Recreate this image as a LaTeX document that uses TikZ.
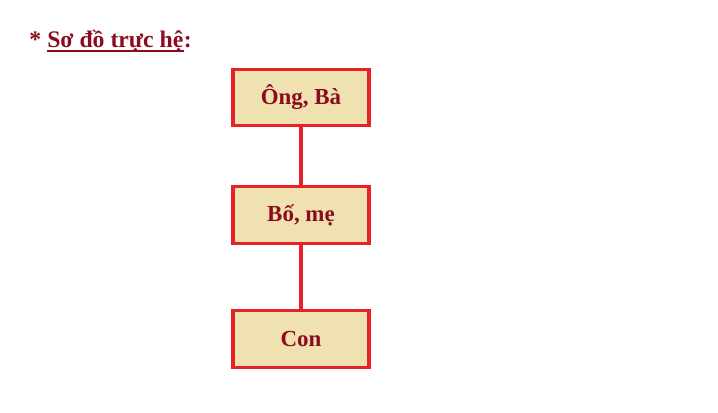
\documentclass[tikz,border=0pt]{standalone}
\usepackage{fontspec}
\setmainfont{Liberation Serif}
\definecolor{boxfill}{HTML}{EFE2B0}
\definecolor{boxline}{HTML}{E8202A}
\definecolor{txt}{HTML}{8B0C1E}
\tikzset{
  famnode/.style={draw=boxline, line width=2.3pt, fill=boxfill, minimum width=102pt, minimum height=42.5pt, inner sep=0pt, font=\bfseries\fontsize{17.2}{20}\selectfont, text=txt},
  link/.style={draw=boxline, line width=2.3pt},
  titletext/.style={inner sep=0pt, text=txt, font=\bfseries\fontsize{17.8}{21}\selectfont}
}
\begin{document}
\begin{tikzpicture}[x=0.75pt,y=-0.75pt]
\useasboundingbox (0,0) rectangle (718,412);
\node[famnode] (a) at (301,97.5) {Ông, Bà};
\node[famnode] (b) at (301,215) {Bố, mẹ};
\node[famnode] (c) at (301,339) {Con};
\draw[link] (a) -- (b);
\draw[link] (b) -- (c);
\node[titletext, anchor=base west] (star) at (29,47) {*};
\node[titletext, anchor=base west] (title) at (47,47) {Sơ đồ trực hệ};
\node[titletext, anchor=base west] (colon) at (title.base east) {:};
\draw[txt, line width=1.5pt] ([yshift=-3pt]title.base west) -- ([yshift=-3pt]title.base east);
\end{tikzpicture}
\end{document}
